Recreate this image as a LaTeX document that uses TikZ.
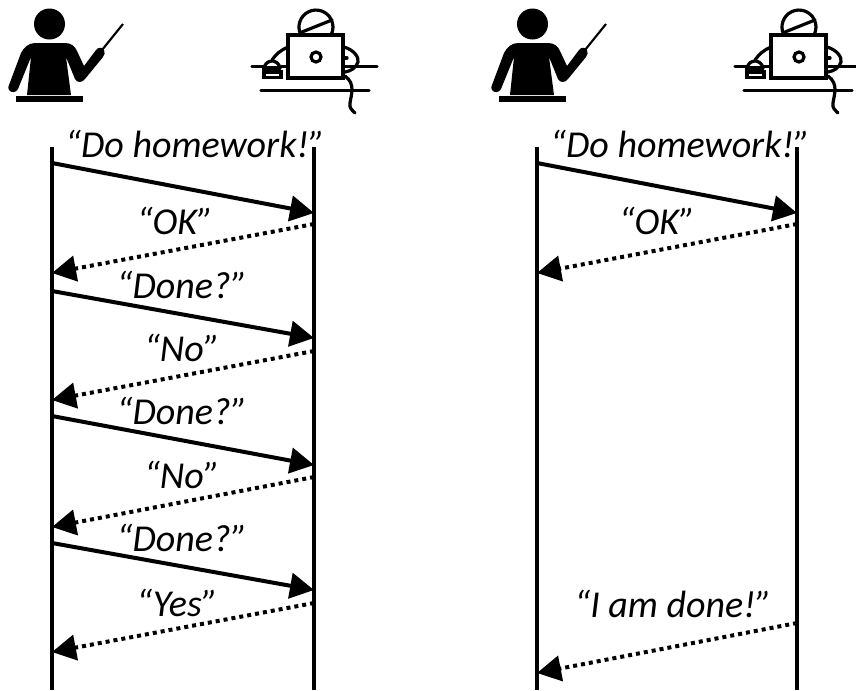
\documentclass[tikz,border=0pt]{standalone}
\usepackage{fontspec}
\setmainfont{Carlito}
\usetikzlibrary{arrows.meta,positioning}

\tikzset{
    pics/teacher/.style={code={
        \fill (49.5,24) circle (15.5);
        \fill (35,43) -- (65,43) .. controls (71,43) and (75,46) .. (77,51) -- (84,66) -- (96,50) .. controls (98,47) and (102,47) .. (104,50) .. controls (105,52) and (105,55) .. (103,57) -- (85,79) .. controls (82,83) and (77,83) .. (75,79) -- (66,57) -- (71,95) -- (27,95) -- (31,57) -- (18,89) .. controls (16,93) and (11,93) .. (9,90) .. controls (8,88) and (8,87) .. (9,85) -- (21,53) .. controls (24,47) and (29,43) .. (35,43) -- cycle;
        \fill (16,96) rectangle (83,102);
        \draw[line width=1.6] (102,50) -- (123,24);
    }},
    pics/student/.style={code={
        \begin{scope}[line width=2.4, line cap=round]
        \draw (300.7,34.5) arc (154:386:17);
        \draw (302,32) -- (332,20);
        \draw (288,35) rectangle (343,78);
        \draw (316,57) circle (5);
        \draw (252,66.5) -- (263,66.5);
        \draw (281,66.5) -- (288,66.5);
        \draw (345,66.5) -- (377,66.5);
        \draw (261,90.5) -- (369,90.5);
        \draw (345,76) .. controls (356,84) and (351,95) .. (350,103) .. controls (349,108) and (352,110) .. (355,113);
        \draw (272,60) .. controls (276,54) and (281,50) .. (288,47);
        \draw (344,47) .. controls (354,50) and (359,57) .. (358,62) .. controls (356,68) and (351,71) .. (345,72);
        \draw (345,58) -- (347,58);
        \draw (264,68) .. controls (265,63) and (269,61) .. (272,61) .. controls (275,61) and (279,63) .. (280,68);
        \draw (264,72) rectangle (281,77.5);
        \draw (264,68) -- (264,72);
        \draw (280,68) -- (264,68);
        \end{scope}
    }}
}

\begin{document}
\begin{tikzpicture}[x=0.75pt,y=-0.75pt]
        \tikzstyle{lifeline} = [line width=3]
        \tikzstyle{request} = [line width=3, -{Triangle[length=18pt,width=19pt]}]
        \tikzstyle{reply} = [line width=3, dash pattern=on 3 off 3, -{Triangle[length=18pt,width=19pt]}]
        \tikzstyle{speech} = [font=\itshape\fontsize{28.5}{30}\selectfont, inner sep=0pt]
        \useasboundingbox (0,0) rectangle (856,690);
        \clip (0,0) rectangle (856,690);

        \pic (teacherA) at (0,0) {teacher};
        \pic (studentA) at (0,0) {student};
        \pic (teacherB) at (483,0) {teacher};
        \pic (studentB) at (483,0) {student};

        % lifelines
        \coordinate (a) at (52,147);
        \coordinate (a') at (52,690);
        \coordinate (b) at (314,147);
        \coordinate (b') at (314,690);
        \coordinate (c) at (537,147);
        \coordinate (c') at (537,690);
        \coordinate (d) at (797,147);
        \coordinate (d') at (797,690);
        \draw [lifeline] (a) -- (a');
        \draw [lifeline] (b) -- (b');
        \draw [lifeline] (c) -- (c');
        \draw [lifeline] (d) -- (d');

        % left exchange
        \coordinate (a1) at (52,163);   \coordinate (b1) at (314,213);
        \coordinate (b2) at (314,224);  \coordinate (a2) at (52,273);
        \coordinate (a3) at (52,291);   \coordinate (b3) at (314,338);
        \coordinate (b4) at (314,351);  \coordinate (a4) at (52,400);
        \coordinate (a5) at (52,416);   \coordinate (b5) at (314,465);
        \coordinate (b6) at (314,477);  \coordinate (a6) at (52,527);
        \coordinate (a7) at (52,543);   \coordinate (b7) at (314,590);
        \coordinate (b8) at (314,603);  \coordinate (a8) at (52,652);
        \draw [request] (a1) -- (b1);
        \draw [reply] (b2) -- (a2);
        \draw [request] (a3) -- (b3);
        \draw [reply] (b4) -- (a4);
        \draw [request] (a5) -- (b5);
        \draw [reply] (b6) -- (a6);
        \draw [request] (a7) -- (b7);
        \draw [reply] (b8) -- (a8);

        % right exchange
        \coordinate (c1) at (537,163);  \coordinate (d1) at (797,213);
        \coordinate (d2) at (797,224);  \coordinate (c2) at (537,273);
        \coordinate (d3) at (797,623);  \coordinate (c3) at (537,673);
        \draw [request] (c1) -- (d1);
        \draw [reply] (d2) -- (c2);
        \draw [reply] (d3) -- (c3);

        \node[speech] (l1) at (195,144) {“Do homework!”};
        \node[speech] (l2) at (175,221) {“OK”};
        \node[speech] (l3) at (182,285) {“Done?”};
        \node[speech] (l4) at (182,348) {“No”};
        \node[speech] (l5) at (182,411) {“Done?”};
        \node[speech] (l6) at (182,475) {“No”};
        \node[speech] (l7) at (182,538) {“Done?”};
        \node[speech] (l8) at (177,603) {“Yes”};
        \node[speech] (r1) at (680,144) {“Do homework!”};
        \node[speech] (r2) at (657,221) {“OK”};
        \node[speech] (r3) at (673,604) {“I am done!”};
\end{tikzpicture}
\end{document}
